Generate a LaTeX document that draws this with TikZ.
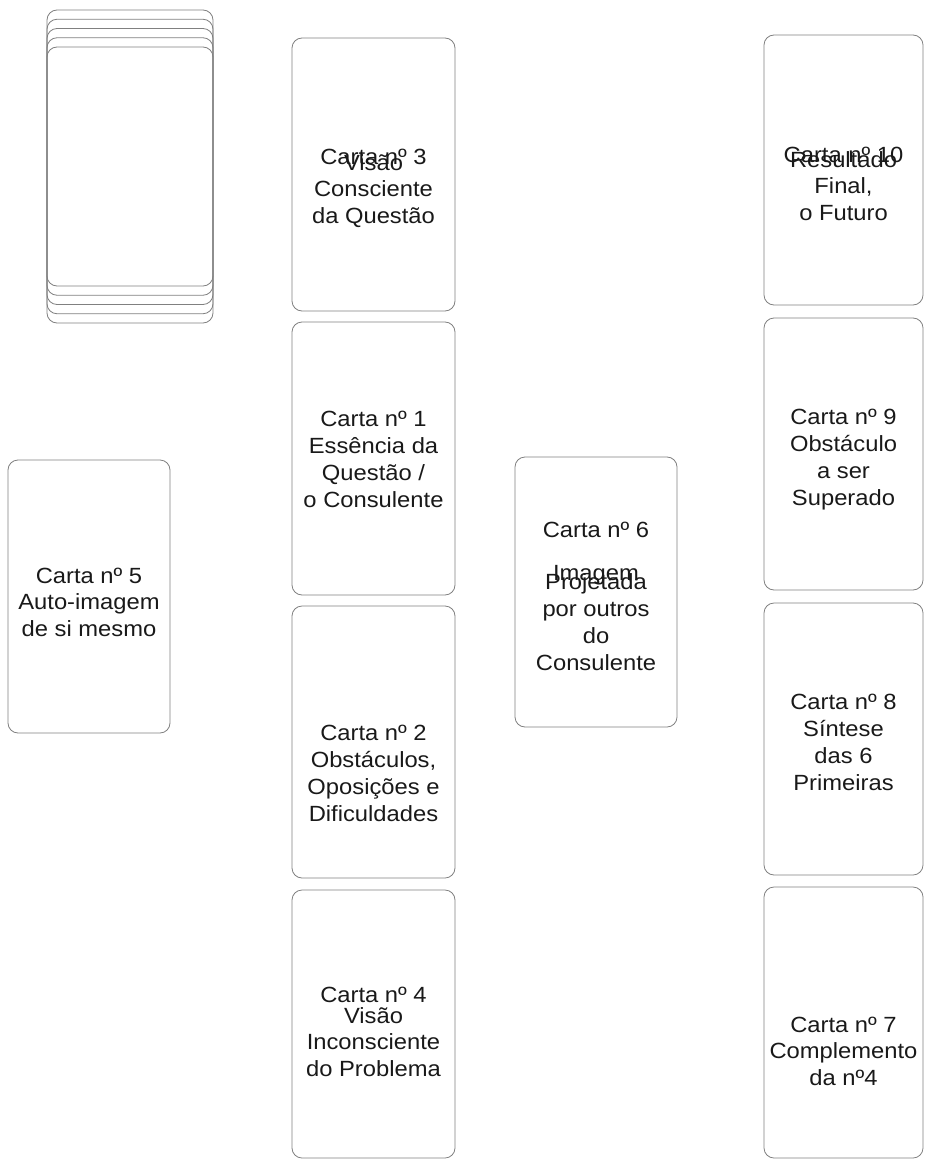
\documentclass[tikz,border=0pt]{standalone}
\usepackage{fontspec}
\usepackage{tikz}
\newfontfamily\cardfont[FakeStretch=1.08]{Liberation Sans}

\begin{document}
\begin{tikzpicture}[x=1pt, y=-1pt,
  card/.style={draw=black!50, line width=0.8pt, rounded corners=10pt},
  cardtext/.style={font=\cardfont\fontsize{22}{26.7}\selectfont, text=black!90,
    align=center, anchor=base, inner sep=0pt}]
 \useasboundingbox (0,0) rectangle (924,1161);
 % baralho
 \foreach \t in {10,19.25,28.5,37.75,47}
   \draw [card] (47,\t) rectangle (213,\t+276);
 % coluna do meio
 \draw [card] (292,38) rectangle (455,311);
 \draw [card] (292,322) rectangle (455,595);
 \draw [card] (292,606) rectangle (455,878);
 \draw [card] (292,890) rectangle (455,1158);
 % coluna da direita
 \draw [card] (764,35) rectangle (923,305);
 \draw [card] (764,318) rectangle (923,590);
 \draw [card] (764,603) rectangle (923,875);
 \draw [card] (764,887) rectangle (923,1158);
 % cartas 5 e 6
 \draw [card] (8,460) rectangle (170,733);
 \draw [card] (515,457) rectangle (677,727);

 % textos (base = linha de baixo)
 \node [cardtext] (t3) at (373.5,165) {Carta nº 3};
 \node [cardtext] (d3) at (373.5,223.4) {Visão\\Consciente\\da Questão};
 \node [cardtext] (t1) at (373.5,507) {Carta nº 1\\Essência da\\Questão /\\o Consulente};
 \node [cardtext] (t2) at (373.5,821) {Carta nº 2\\Obstáculos,\\Oposições e\\Dificuldades};
 \node [cardtext] (t4) at (373.5,1002) {Carta nº 4};
 \node [cardtext] (d4) at (373.5,1076.4) {Visão\\Inconsciente\\do Problema};

 \node [cardtext] (t10) at (843.5,163) {Carta nº 10};
 \node [cardtext] (d10) at (843.5,220.4) {Resultado\\Final,\\o Futuro};
 \node [cardtext] (t9) at (843.5,505) {Carta nº 9\\Obstáculo\\a ser\\Superado};
 \node [cardtext] (t8) at (843.5,790) {Carta nº 8\\Síntese\\das 6\\Primeiras};
 \node [cardtext] (t7) at (843.5,1085.4) {Carta nº 7\\Complemento\\da nº4};

 \node [cardtext] (t5) at (89,636.4) {Carta nº 5\\Auto-imagem\\de si mesmo};
 \node [cardtext] (t6) at (596,537) {Carta nº 6};
 \node [cardtext] (i6) at (596,580) {Imagem};
 \node [cardtext] (d6) at (596,670) {Projetada\\por outros\\do\\Consulente};
\end{tikzpicture}
\end{document}
